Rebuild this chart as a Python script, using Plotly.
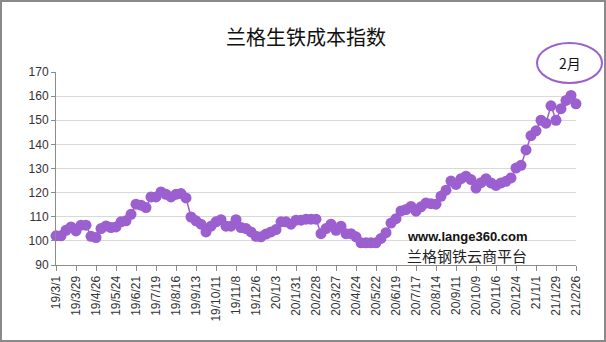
import pandas as pd
import plotly.graph_objects as go

# Weekly dates 19/3/1 .. 21/2/26
dates = pd.date_range("2019-03-01", periods=105, freq="7D")
values = [
    102.1, 102.1, 104.4, 105.8, 104.1, 106.5, 106.5, 101.9, 101.4, 105.1,
    106.2, 105.5, 105.8, 107.9, 108.3, 111.0, 115.2, 114.8, 113.8, 118.2,
    118.2, 120.3, 119.3, 118.2, 119.3, 119.6, 117.8, 109.9, 108.3, 106.9,
    103.7, 106.1, 107.9, 108.8, 106.1, 106.1, 108.8, 105.5, 105.1, 103.7,
    101.9, 101.7, 102.8, 103.7, 104.7, 107.9, 107.9, 106.9, 108.6, 108.6,
    109.0, 109.0, 109.0, 103.0, 105.1, 106.9, 104.4, 106.1, 103.0, 103.0,
    101.7, 99.2, 99.2, 99.2, 99.2, 101.0, 103.4, 107.4, 109.2, 112.4,
    113.0, 114.3, 112.3, 114.1, 115.7, 115.4, 115.2, 118.5, 121.0, 124.8,
    123.4, 125.8, 126.8, 125.4, 121.9, 124.1, 125.8, 124.0, 123.0, 124.0,
    124.7, 126.1, 130.2, 131.3, 137.7, 143.6, 145.6, 150.0, 148.8, 156.0,
    150.0, 154.8, 158.2, 160.3, 156.8,
]
tick_dates = dates[::4]
tick_labels = [f"{d.year % 100}/{d.month}/{d.day}" for d in tick_dates]
y_ticks = [90, 100, 110, 120, 130, 140, 150, 160, 170]

title_text = "兰格生铁成本指数"
callout_text = "2月"
site_text = "www.lange360.com"
brand_text = "兰格钢铁云商平台"

purple = "#9B5FD0"
grey_txt = "#333333"

fig = go.Figure()
fig.add_trace(go.Scatter(
    x=dates, y=values, mode="lines+markers",
    line=dict(color=purple, width=1.5),
    marker=dict(color=purple, size=11, line=dict(width=0)),
    cliponaxis=False, showlegend=False,
))

W, H = 606, 342
L, R, T, B = 56, 30, 72, 77
pw, ph = W - L - R, H - T - B

def px(x):
    return (x - L) / pw

def py(y):
    return (H - B - y) / ph

fig.update_layout(
    width=W, height=H, autosize=False,
    margin=dict(l=L, r=R, t=T, b=B, pad=0),
    paper_bgcolor="white", plot_bgcolor="white",
    title=dict(text=title_text, x=306 / W, y=1 - 38 / H, xanchor="center", yanchor="middle",
               font=dict(family="Noto Sans CJK SC", size=20, color="#111111")),
    xaxis=dict(
        range=[dates[0], dates[-1]],
        tickvals=list(tick_dates), ticktext=tick_labels, tickangle=-90,
        showgrid=False, showline=True, linecolor="#8c8c8c", linewidth=1,
        ticks="outside", ticklen=5, tickcolor="#8c8c8c",
        tickfont=dict(family="Liberation Sans", size=12, color=grey_txt),
        zeroline=False,
    ),
    yaxis=dict(
        range=[90, 170], tickvals=y_ticks,
        showgrid=True, gridcolor="#D9D9D9", gridwidth=1,
        showline=True, linecolor="#8c8c8c", linewidth=1,
        ticks="outside", ticklen=4, tickcolor="#8c8c8c",
        tickfont=dict(family="Liberation Sans", size=12, color=grey_txt),
        zeroline=False,
    ),
    shapes=[
        dict(type="rect", xref="paper", yref="paper",
             x0=px(1), x1=px(605), y0=py(341), y1=py(1),
             line=dict(color="#8a8a8a", width=2), fillcolor="rgba(0,0,0,0)", layer="below"),
        dict(type="circle", xref="paper", yref="paper",
             x0=px(537), x1=px(602), y0=py(83), y1=py(43),
             line=dict(color=purple, width=2)),
    ],
    annotations=[
        dict(text=callout_text, xref="paper", yref="paper", x=px(570), y=py(63),
             xanchor="center", yanchor="middle",
             showarrow=False, font=dict(family="Noto Sans CJK SC", size=14, color="#111111")),
        dict(text=f"<b>{site_text}</b>", xref="paper", yref="paper", x=px(467), y=py(236),
             xanchor="center", yanchor="middle",
             showarrow=False, font=dict(family="Liberation Sans", size=13, color="#111111")),
        dict(text=brand_text, xref="paper", yref="paper", x=px(467), y=py(255),
             xanchor="center", yanchor="middle",
             showarrow=False, font=dict(family="Noto Sans CJK SC", size=15, color="#222222")),
    ],
)

fig.write_html("out.html")
